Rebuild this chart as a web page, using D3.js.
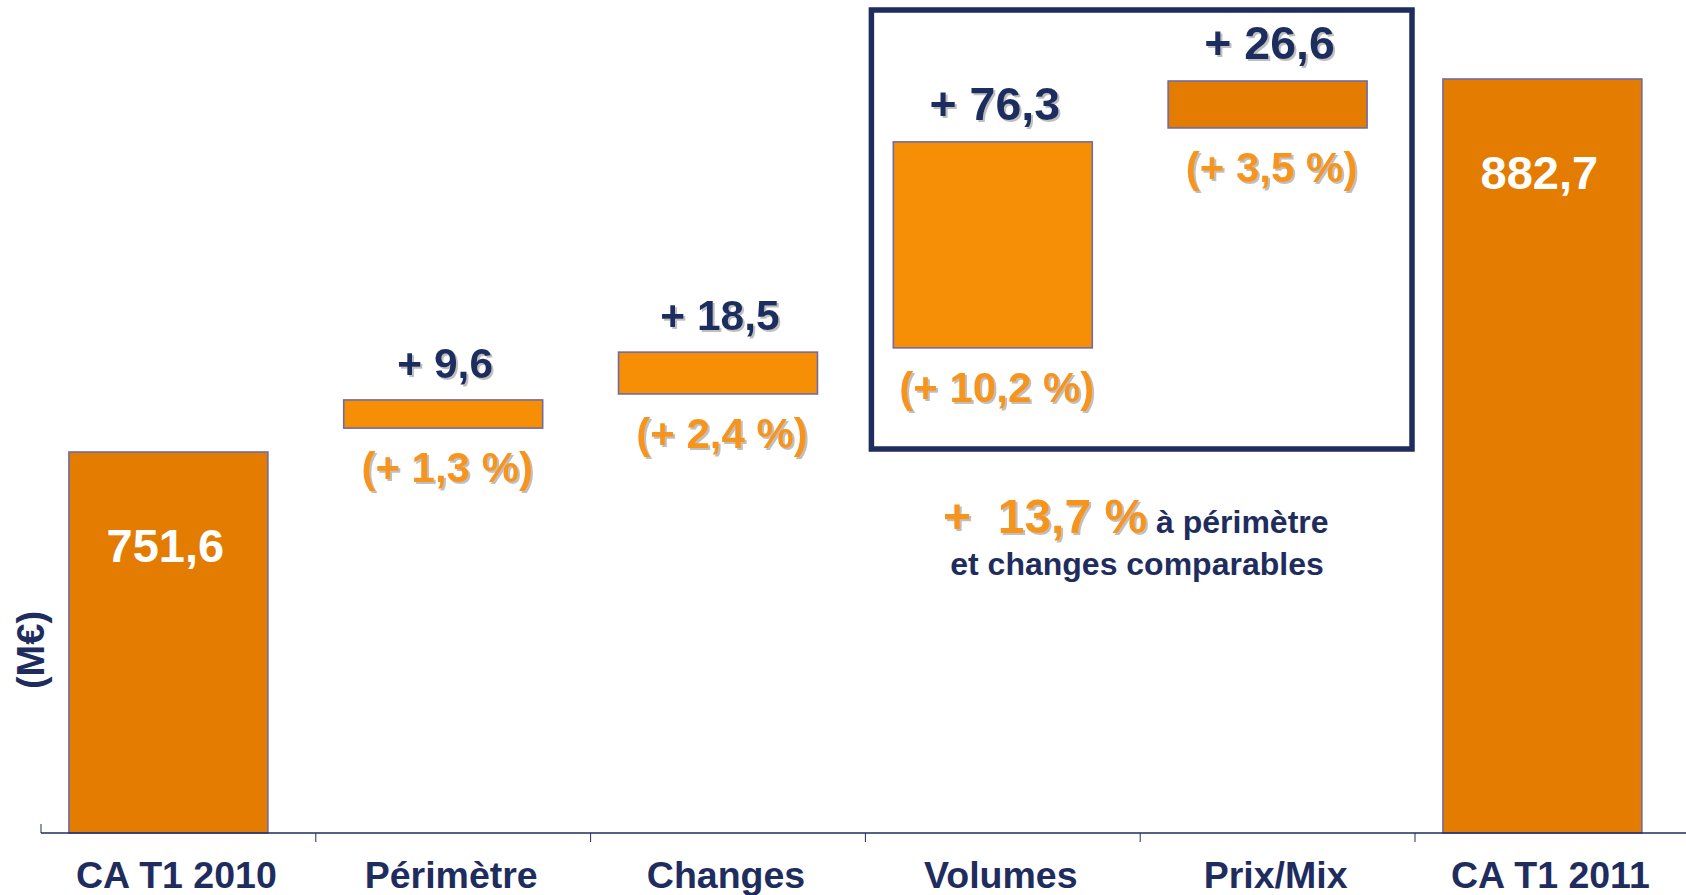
<!DOCTYPE html>
<html>
<head>
<meta charset="utf-8">
<script src="https://cdn.jsdelivr.net/npm/d3@7"></script>
<style>
  html, body { margin: 0; padding: 0; background: #ffffff; }
  svg { display: block; }
  text { font-family: "Liberation Sans", Arial, sans-serif; font-weight: bold; }
</style>
</head>
<body>
<svg id="chart" width="1686" height="895"></svg>
<script>
// ---------- data ----------
const categories = ["CA T1 2010", "Périmètre", "Changes", "Volumes", "Prix/Mix", "CA T1 2011"];
const kinds      = ["total", "delta", "delta", "delta", "delta", "total"];
// drawn extents of each bar, in M€ (the chart is a schematic waterfall)
const barLow     = [0, 760.0, 772.0, 788.2, 865.5, 0];
const barHigh    = [751.6, 769.9, 786.7, 860.6, 882.0, 882.7];
const valueLabels = ["751,6", "+ 9,6", "+ 18,5", "+ 76,3", "+ 26,6", "882,7"];
const pctLabels   = ["", "(+ 1,3 %)", "(+ 2,4 %)", "(+ 10,2 %)", "(+ 3,5 %)", ""];
const boxedCats   = ["Volumes", "Prix/Mix"];
const noteValue   = "+  13,7 %";
const noteLine1   = " à périmètre";
const noteLine2   = "et changes comparables";
const unitLabel   = "(M€)";

// ---------- styles ----------
const NAVY = "#1f2d5e";
const ORANGE_TXT = "#f7941d";
const barFill = ["#e37c00", "#f78f06", "#f78f06", "#f78f06", "#e37c00", "#e37c00"];

const svg = d3.select("#chart");
const defs = svg.append("defs");
defs.append("filter").attr("id", "ts")
  .attr("x", "-10%").attr("y", "-20%").attr("width", "130%").attr("height", "150%")
  .append("feDropShadow")
  .attr("dx", 2).attr("dy", 2).attr("stdDeviation", 0.7)
  .attr("flood-color", "#8a8a8a").attr("flood-opacity", 0.55);

// ---------- scales ----------
const baseY = 833;
const x = d3.scaleBand().domain(categories).range([41, 41 + 6 * 274.8]).padding(0);
const step = x.step();
// broken value axis: bottom part compressed, upper part to scale
const y = d3.scaleLinear().domain([0, 751.6, 882.7]).range([baseY, 452, 79]);

const barW = 0.724 * step;
const barCx = c => x(c) + step / 2 - 10;

const data = categories.map((c, i) => ({
  cat: c, kind: kinds[i], lo: barLow[i], hi: barHigh[i],
  val: valueLabels[i], pct: pctLabels[i], fill: barFill[i]
}));

// ---------- box around Volumes / Prix-Mix ----------
const boxL = x(boxedCats[0]) + 6;
const boxR = x(boxedCats[1]) + step - 3;
svg.append("rect")
  .attr("x", boxL).attr("y", 10)
  .attr("width", boxR - boxL).attr("height", 449 - 10)
  .attr("fill", "none").attr("stroke", NAVY).attr("stroke-width", 5.5);

// ---------- bars ----------
svg.append("g").selectAll("rect").data(data).join("rect")
  .attr("x", d => barCx(d.cat) - barW / 2)
  .attr("width", barW)
  .attr("y", d => y(d.hi))
  .attr("height", d => y(d.lo) - y(d.hi))
  .attr("fill", d => d.fill)
  .attr("stroke", "#6e6ca6").attr("stroke-width", 1.6);

// ---------- axis ----------
const ax = svg.append("g");
ax.append("line")
  .attr("x1", x.range()[0]).attr("x2", 1686)
  .attr("y1", baseY).attr("y2", baseY)
  .attr("stroke", NAVY).attr("stroke-width", 1.5);
ax.selectAll("line.tick").data(categories).join("line").attr("class", "tick")
  .attr("x1", c => x(c)).attr("x2", c => x(c))
  .attr("y1", (c, i) => i === 0 ? baseY - 9 : baseY)
  .attr("y2", (c, i) => i === 0 ? baseY : baseY + 9)
  .attr("stroke", NAVY).attr("stroke-width", 1);
ax.selectAll("text.cat").data(categories).join("text").attr("class", "cat")
  .attr("x", c => x(c) + step / 2 - 2)
  .attr("y", 888)
  .attr("text-anchor", "middle")
  .attr("fill", NAVY).attr("font-size", 37.5)
  .text(c => c);

// unit label
svg.append("text")
  .attr("transform", "translate(44,650) rotate(-90)")
  .attr("text-anchor", "middle")
  .attr("fill", NAVY).attr("font-size", 38)
  .text(unitLabel);

// ---------- value labels ----------
const totals = data.filter(d => d.kind === "total");
svg.append("g").selectAll("text").data(totals).join("text")
  .attr("x", d => barCx(d.cat) - 3)
  .attr("y", d => y(d.hi) + 110)
  .attr("text-anchor", "middle")
  .attr("fill", "#ffffff").attr("font-size", 47)
  .text(d => d.val);

const deltas = data.filter(d => d.kind === "delta");
svg.append("g").selectAll("text").data(deltas).join("text")
  .attr("x", d => barCx(d.cat) + 2)
  .attr("y", d => y(d.hi) - 22)
  .attr("text-anchor", "middle")
  .attr("fill", NAVY)
  .attr("font-size", d => boxedCats.includes(d.cat) ? 46.5 : 42.5)
  .attr("filter", "url(#ts)")
  .style("white-space", "pre")
  .text(d => d.val);

svg.append("g").selectAll("text").data(deltas).join("text")
  .attr("x", d => barCx(d.cat) + 4)
  .attr("y", d => y(d.lo) + 54)
  .attr("text-anchor", "middle")
  .attr("fill", ORANGE_TXT).attr("font-size", 42)
  .attr("filter", "url(#ts)")
  .style("white-space", "pre")
  .text(d => d.pct);

// ---------- note ----------
const note = svg.append("text")
  .attr("x", 943).attr("y", 533)
  .style("white-space", "pre");
note.append("tspan")
  .attr("fill", ORANGE_TXT).attr("font-size", 48).attr("filter", "url(#ts)")
  .text(noteValue);
note.append("tspan")
  .attr("fill", NAVY).attr("font-size", 32)
  .text(noteLine1);
svg.append("text")
  .attr("x", 1137).attr("y", 575)
  .attr("text-anchor", "middle")
  .attr("fill", NAVY).attr("font-size", 32)
  .text(noteLine2);
</script>
</body>
</html>
